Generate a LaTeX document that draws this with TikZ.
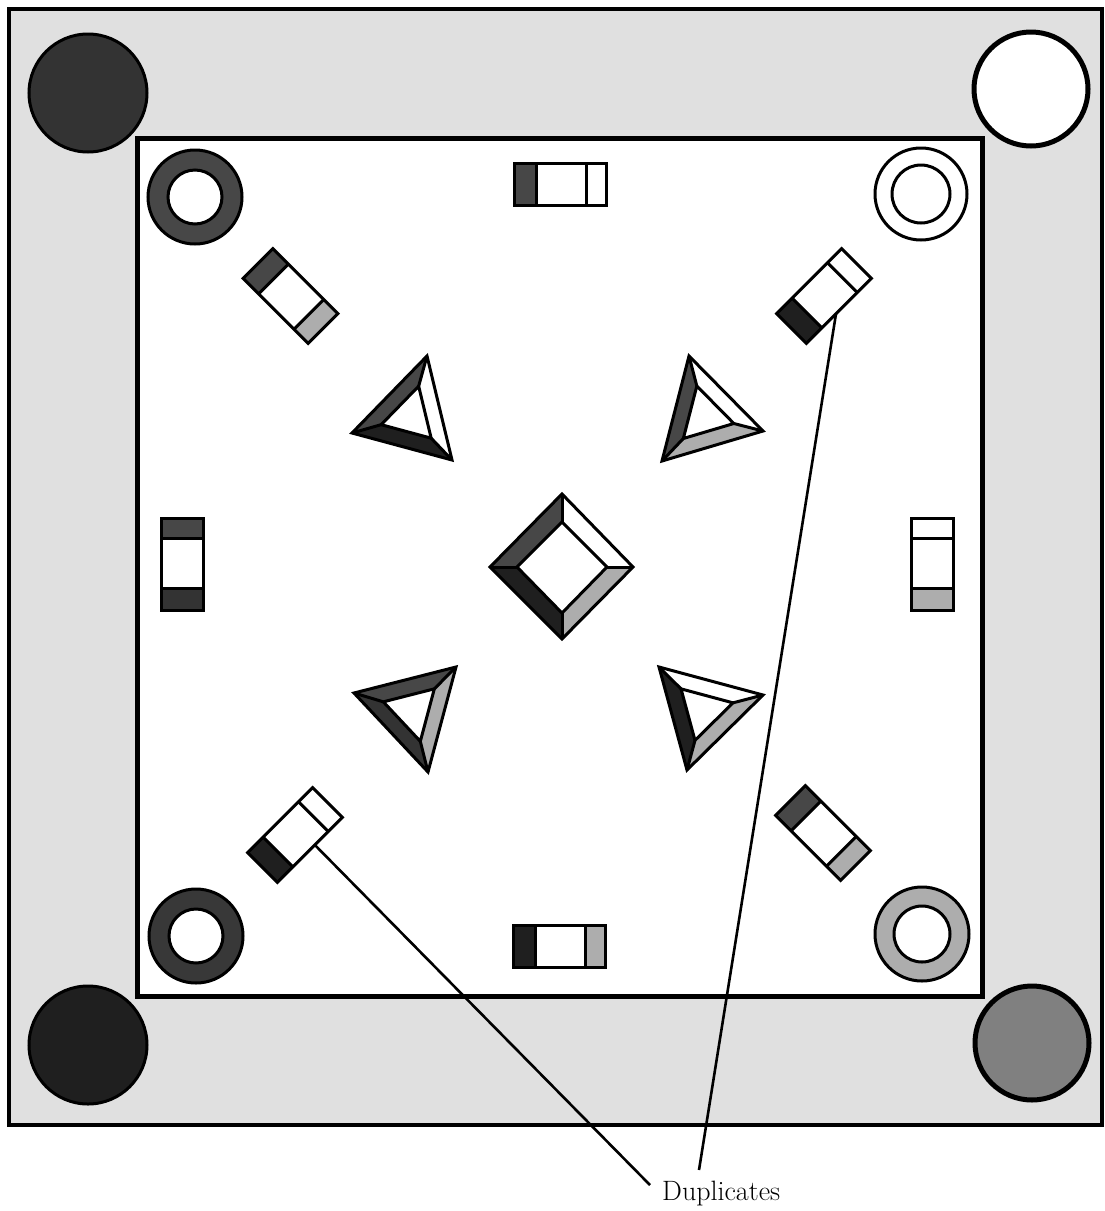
\documentclass[tikz,border=0pt]{standalone}
\usetikzlibrary{calc}
\colorlet{bandgray}{black!12}
\colorlet{dkdot}{black!72}
\colorlet{blk}{black!88}
\colorlet{meddot}{black!32}
\newcommand\diagrect[5]{%
 \begin{scope}[shift={(#1,#2)},rotate=#3]
  \fill[#4] (-46,-21) rectangle (-24,21);
  \fill[#5] (26,-21) rectangle (46,21);
  \draw[shp] (-46,-21) rectangle (46,21);
  \draw[shp] (-24,-21) -- (-24,21) (26,-21) -- (26,21);
 \end{scope}}
\newcommand\bevtri[7]{%
  \coordinate (A) at (#1); \coordinate (B) at (#2); \coordinate (C) at (#3);
  \coordinate (M) at ($(B)!0.5!(C)$);
  \coordinate (G) at ($(A)!0.6667!(M)$);
  \coordinate (a) at ($(G)!#7!(A)$);
  \coordinate (b) at ($(G)!#7!(B)$);
  \coordinate (c) at ($(G)!#7!(C)$);
  \fill[#4] (A)--(B)--(b)--(a)--cycle;
  \fill[#5] (B)--(C)--(c)--(b)--cycle;
  \fill[#6] (C)--(A)--(a)--(c)--cycle;
  \draw[shp] (A)--(B)--(C)--cycle;
  \draw[shp] (a)--(b)--(c)--cycle;
  \draw[shp] (A)--(a) (B)--(b) (C)--(c);}
\begin{document}
\begin{tikzpicture}[x=1pt,y=-1pt,
  shp/.style={line width=3pt,line join=miter},
  lead/.style={line width=2.6pt},
  ring/.style={line width=3pt,even odd rule}]
\useasboundingbox (0,0) rectangle (1104,1211);
% frames
\filldraw[fill=bandgray,line width=3.5pt] (9,9) rectangle (1102,1125);
\filldraw[fill=white,line width=5pt] (137,138) rectangle (982,996);
% corner discs
\filldraw[fill=black!80,line width=3pt] (88,93) circle (59);
\filldraw[fill=white,line width=5pt] (1031,89) circle (57);
\filldraw[fill=blk,line width=3pt] (88,1045) circle (59);
\filldraw[fill=black!50,line width=5pt] (1032,1043) circle (57);
% rings
\filldraw[ring,fill=dkdot] (195,197) circle (47) (195,197) circle (27);
\filldraw[ring,fill=white] (921,194) circle (46) (921,194) circle (29);
\filldraw[ring,fill=black!78] (196,936) circle (47) (196,936) circle (27);
\filldraw[ring,fill=meddot] (922,934) circle (47) (922,934) circle (28);
% small rectangles
\diagrect{560}{184}{0}{dkdot}{white}
\diagrect{559}{946}{0}{blk}{meddot}
\diagrect{182.5}{564.5}{90}{black!80}{dkdot}
\diagrect{932.5}{564.5}{90}{meddot}{white}
\diagrect{290.5}{296}{-45}{dkdot}{meddot}
\diagrect{824}{296}{45}{blk}{white}
\diagrect{295}{835}{45}{blk}{white}
\diagrect{823}{833}{-45}{dkdot}{meddot}
% leader start points
\begin{scope}[shift={(824,296)},rotate=45]
  \coordinate (lead1) at (-4,21);
\end{scope}
\begin{scope}[shift={(295,835)},rotate=45]
  \coordinate (lead2) at (7,21);
\end{scope}
% triangles
\bevtri{427,356}{352,433}{452,460}{dkdot}{blk}{white}{0.5}
\bevtri{689,356}{763,431}{662,461}{white}{meddot}{dkdot}{0.5}
\bevtri{354,693}{456,667}{428,772}{dkdot}{meddot}{black!80}{0.5}
\bevtri{659,667}{763,695}{687,770}{white}{meddot}{blk}{0.5}
% diamond
\coordinate (DT) at (562,494); \coordinate (DR) at (633,567);
\coordinate (DB) at (562,639); \coordinate (DL) at (490,567);
\coordinate (dt) at (562,522); \coordinate (dr) at (607,567);
\coordinate (db) at (562,613); \coordinate (dl) at (517,567);
\fill[dkdot] (DL)--(DT)--(dt)--(dl)--cycle;
\fill[white] (DT)--(DR)--(dr)--(dt)--cycle;
\fill[meddot] (DR)--(DB)--(db)--(dr)--cycle;
\fill[blk] (DB)--(DL)--(dl)--(db)--cycle;
\draw[shp] (DT)--(DR)--(DB)--(DL)--cycle;
\draw[shp] (dt)--(dr)--(db)--(dl)--cycle;
\draw[shp] (DT)--(dt) (DR)--(dr) (DB)--(db) (DL)--(dl);
% label and leaders
\node[anchor=base west,inner sep=0pt,font=\fontsize{28}{32}\selectfont] (dup) at (662,1200) {Duplicates};
\coordinate (e1) at (650,1185);
\coordinate (e2) at (699,1170);
\draw[lead] (lead1) -- (e2);
\draw[lead] (lead2) -- (e1);
\end{tikzpicture}
\end{document}
